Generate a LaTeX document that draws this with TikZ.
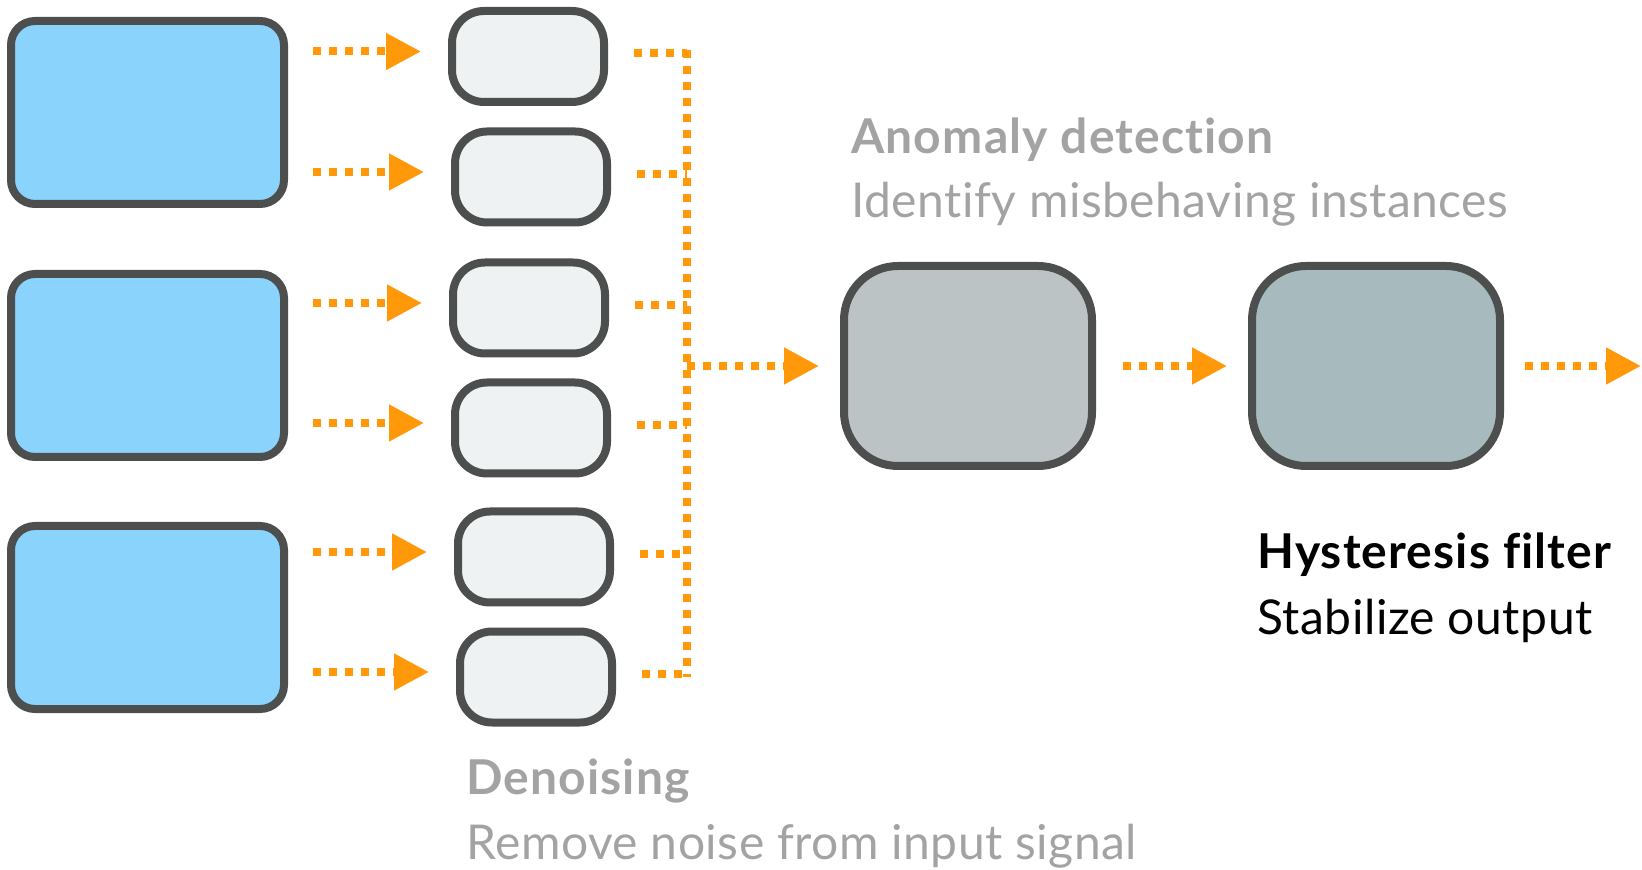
\documentclass[tikz,border=0pt]{standalone}
\usepackage{fontspec}
\setmainfont{Lato}[Ligatures=NoCommon, LetterSpace=1.0, BoldFeatures={LetterSpace=2.3}]
\usetikzlibrary{arrows.meta}
\definecolor{edgegray}{RGB}{77,79,79}
\definecolor{srcblue}{RGB}{137,211,253}
\definecolor{stagefill}{RGB}{238,242,243}
\definecolor{anomfill}{RGB}{187,195,196}
\definecolor{hystfill}{RGB}{167,187,190}
\definecolor{floworange}{RGB}{255,153,10}
\definecolor{capgray}{RGB}{163,163,163}
\begin{document}
\begin{tikzpicture}[
    x=0.5pt, y=-0.5pt,
    src/.style={draw=edgegray, line width=4pt, fill=srcblue, rounded corners=12pt,
      minimum width=136.5pt, minimum height=91.5pt, inner sep=0pt},
    stage/.style={draw=edgegray, line width=4pt, fill=stagefill, rounded corners=16pt,
      minimum width=76pt, minimum height=45.5pt, inner sep=0pt},
    bigbox/.style={draw=edgegray, line width=4pt, rounded corners=27pt,
      minimum width=124pt, minimum height=100pt, inner sep=0pt},
    dotline/.style={draw=floworange, line width=4pt, dash pattern=on 4pt off 4pt},
    flow/.style={dotline, -{Triangle[length=17.5pt, width=17.5pt]}},
    title/.style={font=\fontsize{24}{29}\selectfont\bfseries, inner sep=0pt, anchor=base west},
    sub/.style={font=\fontsize{24}{29}\selectfont, inner sep=0pt, anchor=base west},
  ]
  \useasboundingbox (0,0) rectangle (1642,870);

  % input sources
  \node[src] (src1) at (147.5,112.5) {};
  \node[src] (src2) at (147.5,365.5) {};
  \node[src] (src3) at (147.5,617.5) {};

  % denoising stages
  \node[stage] (dn1) at (528,56.5) {};
  \node[stage] (dn2) at (531,177) {};
  \node[stage] (dn3) at (529,308) {};
  \node[stage] (dn4) at (531,428) {};
  \node[stage] (dn5) at (534,557) {};
  \node[stage] (dn6) at (536,677) {};

  \node[bigbox, fill=anomfill] (anom) at (968,366) {};
  \node[bigbox, fill=hystfill] (hyst) at (1376,366) {};

  \coordinate (bus) at (687,366);
  \coordinate (out) at (1641,366);

  % source -> stage
  \foreach \s/\d in {src1/dn1, src1/dn2, src2/dn3, src2/dn4, src3/dn5, src3/dn6}
    \draw[flow, shorten <=12.5pt, shorten >=13.5pt]
      ([yshift=2.5pt]\s.east |- \d.west) -- ([yshift=2.5pt]\d.west);

  % stage -> bus
  \foreach \d in {dn1,dn2,dn3,dn4,dn5,dn6}
    \draw[dotline, shorten <=13pt] ([yshift=1.5pt]\d.east) -- ([yshift=1.5pt]\d.east -| bus);
  \draw[dotline] ([yshift=3pt]dn1.east -| bus) -- (dn6.east -| bus);

  \draw[flow, shorten >=10.5pt] (bus) -- (anom.west);
  \draw[flow, shorten <=13.5pt, shorten >=10.5pt] (anom.east) -- (hyst.west);
  \draw[flow, shorten <=10.5pt] (hyst.east) -- (out);

  % captions
  \node[title, text=capgray] (anomT) at (851,154) {Anomaly detection};
  \node[sub, text=capgray] (anomS) at (851,218) {Identify misbehaving instances};
  \node[title] (hystT) at (1257,569) {Hysteresis filter};
  \node[sub] (hystS) at (1257,634) {Stabilize output};
  \node[title, text=capgray] (dnT) at (466,794) {Denoising};
  \node[sub, text=capgray] (dnS) at (466,859) {Remove noise from input signal};
\end{tikzpicture}
\end{document}
